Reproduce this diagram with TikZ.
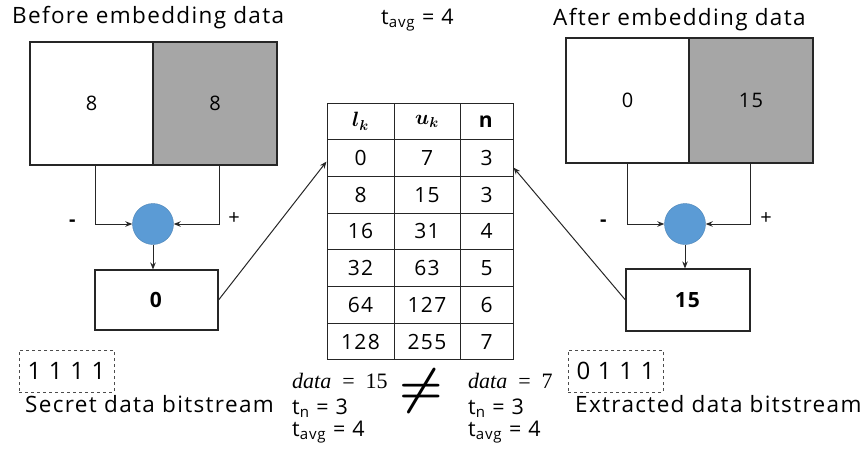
\documentclass[tikz,border=0pt]{standalone}
\usepackage[no-math]{fontspec}
\setmainfont{Open Sans}[LetterSpace=6]
\newfontfamily\cambria{Liberation Serif}
\usepackage{amsmath,bm}
\usetikzlibrary{arrows.meta,calc}
\definecolor{grayfill}{HTML}{A6A6A6}
\definecolor{circblue}{HTML}{5B9BD5}
\definecolor{linec}{HTML}{262626}
\begin{document}
\begin{tikzpicture}[x=1pt,y=-1pt,
  font=\fontsize{20}{24}\selectfont,
  blk/.style={draw=linec, line width=1.1pt, inner sep=0pt, anchor=center},
  cell/.style={draw=linec, line width=1pt, inner sep=0pt, anchor=center, font=\fontsize{21}{24}\selectfont},
  sumc/.style={circle, fill=circblue, draw=circblue!85!black, line width=0.4pt, minimum size=41pt, inner sep=0pt},
  arr/.style={-{Stealth[length=7pt,width=5.5pt]}, line width=1pt, draw=linec},
  bits/.style={draw=black!70, dashed, line width=0.8pt, minimum width=95pt, minimum height=42pt, inner sep=0pt, font=\fontsize{24}{26}\selectfont},
  lbl/.style={anchor=west, inner sep=0pt, font=\fontsize{22.5}{26}\selectfont},
  small/.style={anchor=west, inner sep=0pt, font=\fontsize{21.5}{24}\selectfont},
  mth/.style={anchor=west, inner sep=0pt, font=\fontsize{22}{26}\cambria}]
\useasboundingbox (0,0) rectangle (866,450);

% ---------- left part ----------
\node[lbl] (tl) at (12,18) {Before embedding data};
\node[blk, minimum width=123pt, minimum height=123pt] (bl) at (91.5,103.5) {8};
\node[blk, fill=grayfill, minimum width=124pt, minimum height=123pt] (br) at (215,103.5) {8};
\node[sumc] (c1) at (153,224) {};
\node[blk, minimum width=123pt, minimum height=60pt, font=\fontsize{21}{24}\selectfont] (r1) at (156.5,300) {\textbf{0}};
\draw[arr] ([xshift=3.5pt]bl.south) |- (c1.west);
\draw[arr] ([xshift=4pt]br.south) |- (c1.east);
\draw[arr] (c1.south) -- (c1.south |- r1.north);
\node[inner sep=0pt] (m1) at (73,223) {\textbf{-}};
\node[inner sep=0pt] (p1) at (234,219) {+};
\node[bits] (b1) at (66.5,371) {1 1 1 1};
\node[lbl] (s1) at (25,404) {Secret data bitstream};

% ---------- top middle ----------
\node[small] (ta) at (381,20) {t\textsubscript{avg} = 4};

% ---------- table ----------
\foreach \a/\b/\c [count=\i] in {{$\bm{l_k}$}/{$\bm{u_k}$}/{\textbf{n}},0/7/3,8/15/3,16/31/4,32/63/5,64/127/6,128/255/7} {
  \pgfmathsetmacro{\yy}{103+36.7*(\i-1)+18.35}
  \node[cell, minimum width=67pt, minimum height=36.7pt] (t\i1) at (360.5,\yy) {\a};
  \node[cell, minimum width=66pt, minimum height=36.7pt] (t\i2) at (427,\yy) {\b};
  \node[cell, minimum width=53pt, minimum height=36.7pt] (t\i3) at (486.5,\yy) {\c};
}

% ---------- right part ----------
\node[lbl] (tr) at (553,20) {After embedding data};
\node[blk, minimum width=123pt, minimum height=125pt] (al) at (627.5,100.5) {0};
\node[blk, fill=grayfill, minimum width=124pt, minimum height=125pt] (ar) at (751,100.5) {15};
\node[sumc] (c2) at (685,224) {};
\node[blk, minimum width=124pt, minimum height=62pt, font=\fontsize{21}{24}\selectfont] (r2) at (688,300) {\textbf{15}};
\draw[arr] (al.south) |- (c2.west);
\draw[arr] ([xshift=-1pt]ar.south) |- (c2.east);
\draw[arr] (c2.south) -- (c2.south |- r2.north);
\node[inner sep=0pt] (m2) at (604,223) {\textbf{-}};
\node[inner sep=0pt] (p2) at (766,219) {+};
\node[bits] (b2) at (615.5,371) {0 1 1 1};
\node[lbl] (s2) at (575,404) {Extracted data bitstream};

% ---------- connectors to table ----------
\draw[arr] (r1.east) -- ([yshift=-3.5pt]t21.west);
\draw[arr] (r2.west) -- ([yshift=-9.5pt]t23.east);

% ---------- bottom formulas ----------
\node[mth] (d1) at (292,381) {\textit{data}\enspace=\enspace15};
\node[small] (n1) at (292,408) {t\textsubscript{n} = 3};
\node[small] (v1) at (292,432) {t\textsubscript{avg} = 4};
\node[inner sep=0pt] (ne) at (421,391) {\scalebox{2.4}{$\boldsymbol{\neq}$}};
\node[mth] (d2) at (468,381) {\textit{data}\enspace=\enspace7};
\node[small] (n2) at (468,408) {t\textsubscript{n} = 3};
\node[small] (v2) at (468,432) {t\textsubscript{avg} = 4};
\end{tikzpicture}
\end{document}
